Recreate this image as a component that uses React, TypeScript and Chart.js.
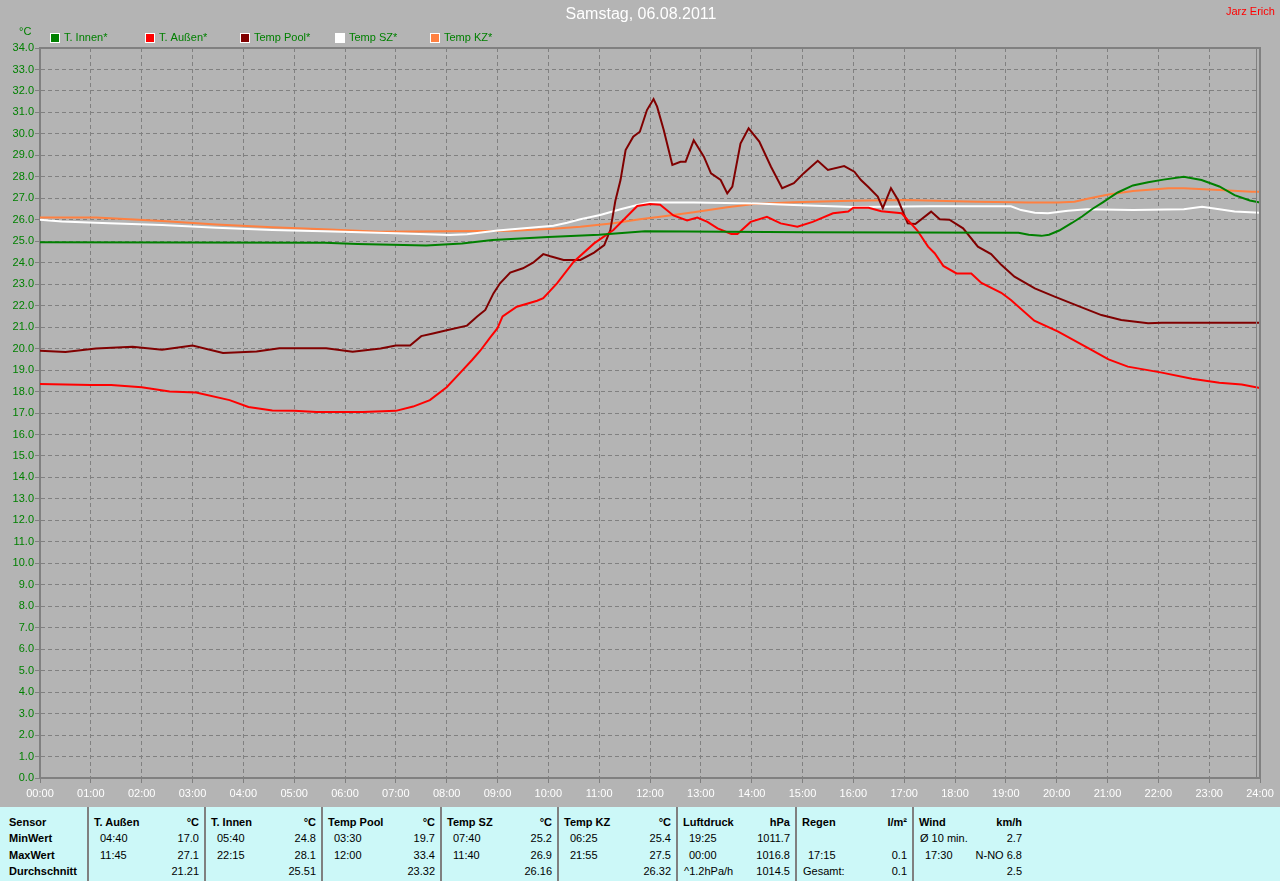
import React, { useEffect, useRef } from 'react';
import { Chart, registerables } from 'chart.js';

Chart.register(...registerables);

const chartTitle = 'Samstag, 06.08.2011';
const authorText = 'Jarz Erich';
const unitText = '°C';

const seriesLabels = ['T. Innen*', 'T. Außen*', 'Temp Pool*', 'Temp SZ*', 'Temp KZ*'];
const seriesColors = ['#008000', '#FF0000', '#800000', '#FFFFFF', '#FF8040'];

// T. Innen
const innenHours = [0, 5.6, 6.25, 7.6, 8.3, 8.9, 10.0, 11.0, 11.9, 15.1, 19.25, 19.45, 19.7, 19.85, 20.05, 20.3, 20.5, 20.7, 20.9, 21.2, 21.5, 21.8, 22.1, 22.5, 22.85, 23.2, 23.5, 23.8, 24];
const innenTemps = [24.95, 24.93, 24.87, 24.8, 24.9, 25.06, 25.2, 25.3, 25.47, 25.42, 25.4, 25.3, 25.25, 25.3, 25.5, 25.85, 26.15, 26.5, 26.8, 27.27, 27.6, 27.75, 27.87, 28.0, 27.85, 27.55, 27.15, 26.9, 26.8];

// T. Außen
const aussenHours = [0, 1.0, 1.4, 2.0, 2.55, 3.07, 3.73, 4.1, 4.57, 5.0, 5.44, 6.35, 7.0, 7.34, 7.67, 8.0, 8.26, 8.5, 8.66, 8.85, 9.0, 9.1, 9.38, 9.78, 9.9, 10.17, 10.5, 10.9, 11.28, 11.75, 12.0, 12.2, 12.46, 12.73, 12.93, 13.13, 13.33, 13.6, 13.72, 13.98, 14.3, 14.57, 14.9, 15.2, 15.6, 15.9, 16.0, 16.3, 16.55, 16.95, 17.26, 17.47, 17.6, 17.77, 18.03, 18.32, 18.52, 18.91, 19.1, 19.56, 20.03, 20.63, 21.02, 21.4, 22.07, 22.66, 23.2, 23.64, 24];
const aussenTemps = [18.35, 18.3, 18.3, 18.2, 18.0, 17.95, 17.6, 17.28, 17.12, 17.1, 17.05, 17.05, 17.1, 17.3, 17.6, 18.2, 18.86, 19.47, 19.9, 20.5, 20.95, 21.5, 21.95, 22.23, 22.35, 23.04, 24.05, 24.9, 25.52, 26.64, 26.73, 26.7, 26.2, 25.97, 26.1, 25.9, 25.6, 25.34, 25.34, 25.9, 26.14, 25.83, 25.68, 25.9, 26.3, 26.38, 26.56, 26.56, 26.4, 26.3, 25.5, 24.75, 24.44, 23.85, 23.5, 23.5, 23.06, 22.6, 22.26, 21.3, 20.79, 20.01, 19.5, 19.16, 18.88, 18.6, 18.41, 18.33, 18.16];

// Temp Pool
const poolHours = [0, 0.5, 1.1, 1.82, 2.4, 3.0, 3.6, 4.26, 4.71, 5.63, 6.15, 6.7, 7.0, 7.28, 7.5, 7.73, 8.0, 8.4, 8.6, 8.76, 8.92, 9.05, 9.25, 9.5, 9.7, 9.9, 10.04, 10.3, 10.63, 10.9, 11.1, 11.22, 11.32, 11.42, 11.52, 11.67, 11.8, 11.94, 12.07, 12.14, 12.27, 12.44, 12.6, 12.7, 12.86, 13.06, 13.2, 13.39, 13.52, 13.62, 13.78, 13.94, 14.15, 14.38, 14.6, 14.83, 15.02, 15.3, 15.5, 15.82, 16.02, 16.15, 16.29, 16.48, 16.58, 16.74, 16.88, 17.07, 17.22, 17.53, 17.7, 17.89, 18.16, 18.45, 18.71, 18.91, 19.17, 19.57, 19.96, 20.43, 20.88, 21.27, 21.8, 22.07, 24];
const poolTemps = [19.9, 19.84, 20.0, 20.09, 19.95, 20.14, 19.8, 19.87, 20.01, 20.01, 19.85, 20.0, 20.14, 20.14, 20.58, 20.7, 20.85, 21.07, 21.49, 21.8, 22.57, 23.04, 23.54, 23.74, 24.0, 24.4, 24.3, 24.13, 24.13, 24.47, 24.82, 25.52, 26.9, 27.85, 29.25, 29.87, 30.1, 31.11, 31.62, 31.27, 30.18, 28.55, 28.7, 28.7, 29.7, 28.94, 28.16, 27.85, 27.23, 27.54, 29.55, 30.26, 29.64, 28.47, 27.47, 27.7, 28.16, 28.75, 28.32, 28.5, 28.24, 27.85, 27.54, 27.08, 26.54, 27.47, 26.92, 25.83, 25.8, 26.38, 26.02, 26.0, 25.6, 24.75, 24.4, 23.9, 23.35, 22.8, 22.42, 21.98, 21.56, 21.33, 21.18, 21.2, 21.2];

// Temp SZ
const szHours = [0, 0.43, 1.36, 2.4, 3.47, 4.57, 5.95, 7.0, 8.06, 8.4, 9.0, 9.64, 10.1, 10.37, 10.63, 11.02, 11.42, 11.75, 12.0, 12.86, 14.1, 14.83, 16.0, 17.5, 19.1, 19.3, 19.57, 19.83, 20.22, 20.6, 21.5, 22.5, 22.86, 23.2, 23.5, 24];
const szTemps = [26.0, 25.92, 25.84, 25.76, 25.63, 25.52, 25.44, 25.37, 25.29, 25.33, 25.5, 25.63, 25.72, 25.86, 26.02, 26.22, 26.49, 26.69, 26.8, 26.8, 26.76, 26.69, 26.6, 26.63, 26.63, 26.45, 26.33, 26.3, 26.42, 26.49, 26.45, 26.49, 26.6, 26.49, 26.38, 26.33];

// Temp KZ
const kzHours = [0, 1.1, 1.76, 2.4, 3.47, 4.57, 5.7, 6.68, 8.06, 9.3, 10.1, 10.63, 11.28, 11.8, 12.2, 12.86, 13.52, 14.04, 14.83, 15.95, 17.0, 18.45, 19.44, 20.03, 20.35, 20.63, 21.02, 21.5, 22.2, 22.5, 23.2, 23.84, 24];
const kzTemps = [26.1, 26.1, 26.02, 25.94, 25.78, 25.65, 25.55, 25.44, 25.47, 25.49, 25.58, 25.68, 25.84, 26.02, 26.14, 26.35, 26.58, 26.73, 26.81, 26.89, 26.92, 26.84, 26.8, 26.8, 26.84, 26.99, 27.18, 27.34, 27.47, 27.47, 27.39, 27.31, 27.31];

// Statistics table
const rowLabels = ['Sensor', 'MinWert', 'MaxWert', 'Durchschnitt'];
const statNames = ['T. Außen', 'T. Innen', 'Temp Pool', 'Temp SZ', 'Temp KZ', 'Luftdruck', 'Regen', 'Wind'];
const statUnits = ['°C', '°C', '°C', '°C', '°C', 'hPa', 'l/m²', 'km/h'];
const minLeft = ['04:40', '05:40', '03:30', '07:40', '06:25', '19:25', '', 'Ø 10 min.'];
const minRight = ['17.0', '24.8', '19.7', '25.2', '25.4', '1011.7', '', '2.7'];
const maxLeft = ['11:45', '22:15', '12:00', '11:40', '21:55', '00:00', '17:15', '17:30'];
const maxRight = ['27.1', '28.1', '33.4', '26.9', '27.5', '1016.8', '0.1', 'N-NO 6.8'];
const avgLeft = ['', '', '', '', '', '^1.2hPa/h', 'Gesamt:', ''];
const avgRight = ['21.21', '25.51', '23.32', '26.16', '26.32', '1014.5', '0.1', '2.5'];

const FONT = '"Liberation Sans", Arial, sans-serif';
const GRID = '#808080';
const BG = '#B4B4B4';

const zip = (xs: number[], ys: number[]) => xs.map((x, i) => ({ x, y: ys[i] }));

const decorPlugin = {
  id: 'decor',
  beforeDraw(chart: any) {
    const ctx = chart.ctx;
    ctx.save();
    ctx.fillStyle = BG;
    ctx.fillRect(0, 0, chart.width, chart.height);
    ctx.restore();
  },
  afterDraw(chart: any) {
    const ctx = chart.ctx;
    const ca = chart.chartArea;
    ctx.save();
    ctx.strokeStyle = GRID;
    ctx.lineWidth = 2;
    ctx.beginPath();
    ctx.moveTo(ca.left - 1, ca.top);
    ctx.lineTo(ca.right + 1, ca.top);
    ctx.stroke();
    ctx.lineWidth = 1;
    ctx.beginPath();
    ctx.moveTo(ca.right - 3.5, ca.top);
    ctx.lineTo(ca.right - 3.5, ca.bottom);
    ctx.stroke();
    ctx.lineWidth = 2;
    ctx.beginPath();
    ctx.moveTo(ca.right, ca.top);
    ctx.lineTo(ca.right, ca.bottom + 1);
    ctx.stroke();

    ctx.fillStyle = '#FFFFFF';
    ctx.font = `16px ${FONT}`;
    ctx.textAlign = 'center';
    ctx.textBaseline = 'middle';
    ctx.fillText(chartTitle, 641, 15);

    ctx.fillStyle = '#FF0000';
    ctx.font = `11px ${FONT}`;
    ctx.textAlign = 'left';
    ctx.fillText(authorText, 1226, 12);

    ctx.fillStyle = '#008000';
    ctx.fillText(unitText, 19, 32);

    chart.data.datasets.forEach((ds: any, i: number) => {
      const bx = 50 + i * 95;
      ctx.fillStyle = ds.borderColor;
      ctx.fillRect(bx, 33, 10, 10);
      ctx.strokeStyle = '#FFFFFF';
      ctx.lineWidth = 1;
      ctx.strokeRect(bx + 0.5, 33.5, 9, 9);
      ctx.fillStyle = '#008000';
      ctx.font = `11px ${FONT}`;
      ctx.textAlign = 'left';
      ctx.textBaseline = 'middle';
      ctx.fillText(ds.label, bx + 14, 38);
    });
    ctx.restore();
  },
};

function ChartCanvas() {
  const ref = useRef<HTMLCanvasElement | null>(null);
  useEffect(() => {
    if (!ref.current) return;
    const seriesHours = [innenHours, aussenHours, poolHours, szHours, kzHours];
    const seriesTemps = [innenTemps, aussenTemps, poolTemps, szTemps, kzTemps];
    const chart = new Chart(ref.current, {
      type: 'line',
      data: {
        datasets: seriesLabels.map((label, i) => ({
          label,
          data: zip(seriesHours[i], seriesTemps[i]),
          borderColor: seriesColors[i],
          backgroundColor: seriesColors[i],
          borderWidth: 2,
          pointRadius: 0,
          tension: 0,
          fill: false,
        })),
      },
      options: {
        responsive: false,
        animation: false,
        devicePixelRatio: 1,
        layout: { padding: { left: 0, right: 20, top: 48, bottom: 0 } },
        plugins: { legend: { display: false }, tooltip: { enabled: false }, title: { display: false } },
        scales: {
          x: {
            type: 'linear',
            min: 0,
            max: 24,
            afterFit: (s: any) => { s.height = 29; },
            ticks: {
              stepSize: 1,
              autoSkip: false,
              maxRotation: 0,
              color: '#FFFFFF',
              font: { family: FONT, size: 11 },
              padding: 4,
              callback: (v: any) => `${String(v).padStart(2, '0')}:00`,
            },
            grid: { color: GRID, lineWidth: 1, tickLength: 5, tickColor: GRID, drawTicks: true },
            border: { display: true, color: GRID, width: 2, dash: [4, 3] },
          },
          y: {
            type: 'linear',
            min: 0,
            max: 34,
            afterFit: (s: any) => { s.width = 40; },
            ticks: {
              stepSize: 1,
              color: '#008000',
              font: { family: FONT, size: 11 },
              padding: 1,
              callback: (v: any) => Number(v).toFixed(1),
            },
            grid: { color: GRID, lineWidth: 1, tickLength: 5, tickColor: GRID, drawTicks: true },
            border: { display: true, color: GRID, width: 2, dash: [4, 3] },
          },
        },
      },
      plugins: [decorPlugin],
    } as any);
    return () => chart.destroy();
  }, []);
  return <canvas ref={ref} width={1280} height={807} style={{ display: 'block', width: 1280, height: 807 }} />;
}

const seps = [88, 205, 322, 441, 558, 677, 796, 913, 1028];
const rowCenters = [822, 838, 855, 871];

function StatsTable() {
  const TOP = 807;
  const cell = (text: string, left: number | null, right: number | null, row: number, bold: boolean, key: string) => (
    <div
      key={key}
      style={{
        position: 'absolute',
        top: rowCenters[row] - 8 - TOP,
        height: 16,
        lineHeight: '16px',
        left: left ?? undefined,
        right: right != null ? 1280 - right : undefined,
        fontWeight: bold ? 'bold' : 'normal',
        whiteSpace: 'pre',
      }}
    >
      {text}
    </div>
  );
  const isTime = (s: string) => /^\d\d:\d\d$/.test(s);
  const items: any[] = [];
  rowLabels.forEach((l, r) => items.push(cell(l, 9, null, r, true, `rl${r}`)));
  statNames.forEach((name, i) => {
    const a = seps[i];
    const b = seps[i + 1];
    items.push(cell(name, a + 6, null, 0, true, `h${i}`));
    items.push(cell(statUnits[i], null, b - 6, 0, true, `u${i}`));
    const lefts = [minLeft[i], maxLeft[i], avgLeft[i]];
    const rights = [minRight[i], maxRight[i], avgRight[i]];
    lefts.forEach((t, r) => {
      if (t) items.push(cell(t, a + (isTime(t) ? 12 : 7), null, r + 1, false, `l${i}_${r}`));
    });
    rights.forEach((t, r) => {
      if (t) items.push(cell(t, null, b - 6, r + 1, false, `r${i}_${r}`));
    });
  });
  return (
    <div
      style={{
        position: 'absolute',
        left: 0,
        top: TOP,
        width: 1280,
        height: 881 - TOP,
        background: '#CCF8F8',
        fontFamily: FONT,
        fontSize: 11,
        color: '#000',
        overflow: 'hidden',
      }}
    >
      {seps.slice(0, 8).map((x, i) => (
        <div key={`s${i}`} style={{ position: 'absolute', left: x - 1, top: 0, width: 2, height: 881 - TOP, background: GRID }} />
      ))}
      {items}
    </div>
  );
}

export default function App() {
  return (
    <div style={{ position: 'absolute', left: 0, top: 0, width: 1280, height: 881, background: BG, overflow: 'hidden' }}>
      <ChartCanvas />
      <StatsTable />
    </div>
  );
}
